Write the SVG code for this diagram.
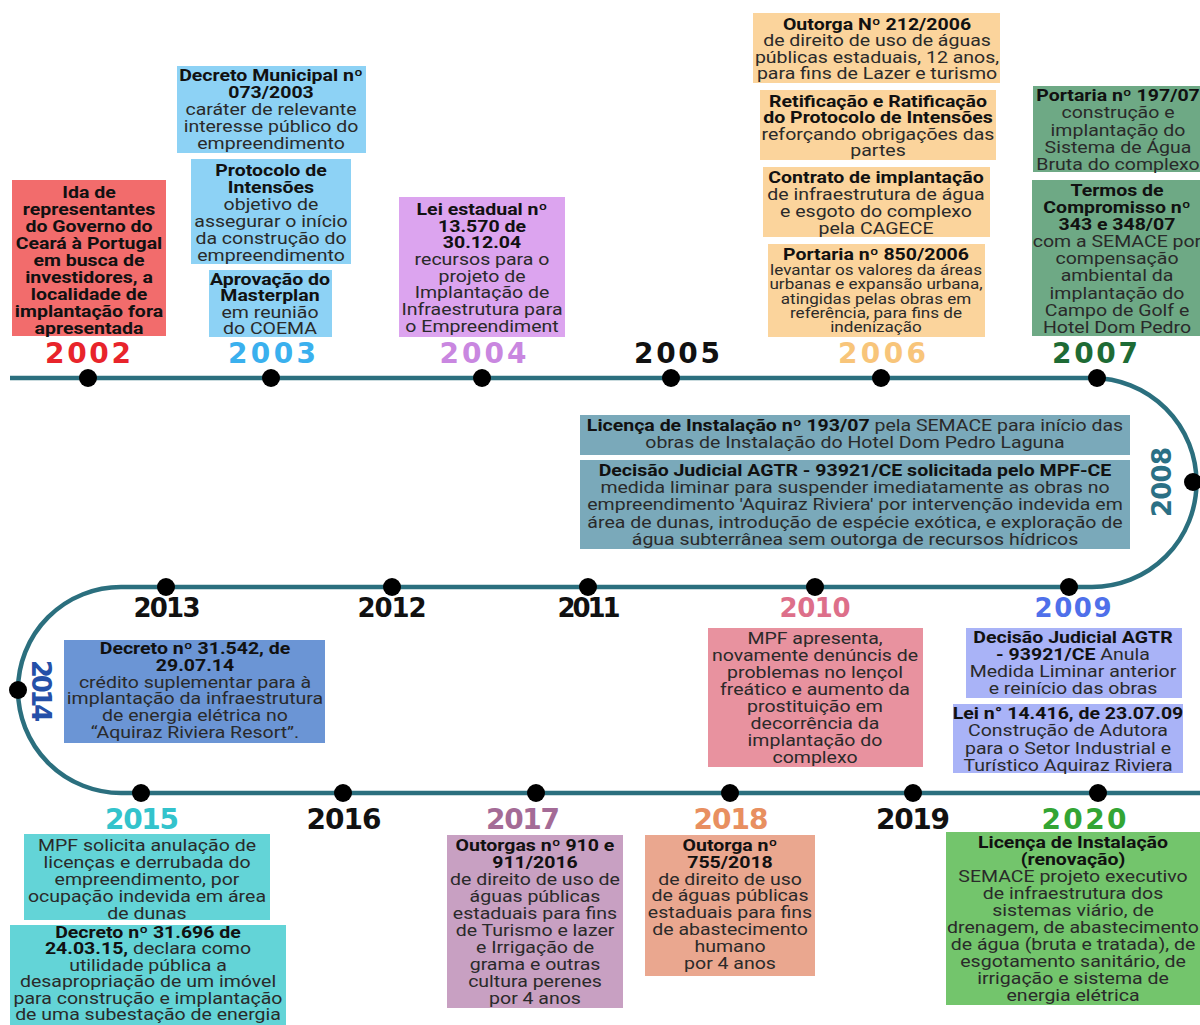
<svg xmlns="http://www.w3.org/2000/svg" width="1200" height="1025" viewBox="0 0 1200 1025">
<style>
.t{font-family:Roboto,"Liberation Sans",sans-serif;font-size:16px;fill:#2a2a2a;text-anchor:middle}
.b{font-weight:bold;fill:#111}
.s{font-size:14px}
.yr{font-family:"DejaVu Sans","Liberation Sans",sans-serif;font-weight:bold;font-size:28px;text-anchor:middle}
.ym{font-size:26px}
.dot{fill:#000}
.line{fill:none;stroke:#2b6f7e;stroke-width:4.5}
</style>
<rect width="1200" height="1025" fill="#fff"/>
<g id="connectors">
<path class="line" d="M10,378 H1092 A104.5,104.5 0 0 1 1092,587 H121 A103,103 0 0 0 121,793 H1200"/>
</g>

<g id="y2002">
<rect x="12" y="180" width="154" height="156" fill="#f26c6c"/>
<text class="t b" transform="translate(89 0) scale(1.22 1)" y="198"><tspan x="0">Ida de</tspan><tspan x="0" dy="17">representantes</tspan><tspan x="0" dy="17">do Governo do</tspan><tspan x="0" dy="17">Ceará à Portugal</tspan><tspan x="0" dy="17">em busca de</tspan><tspan x="0" dy="17">investidores, a</tspan><tspan x="0" dy="17">localidade de</tspan><tspan x="0" dy="17">implantação fora</tspan><tspan x="0" dy="17">apresentada</tspan></text>
<text class="yr" x="88" y="363" textLength="86" lengthAdjust="spacing" fill="#e8242b">2002</text>
<circle class="dot" cx="88" cy="378" r="9"/>
</g>

<g id="y2003">
<rect x="177" y="66" width="189" height="87" fill="#8dd2f5"/>
<text class="t" transform="translate(271 0) scale(1.22 1)" y="81"><tspan x="0" class="b">Decreto Municipal nº</tspan><tspan x="0" dy="17" class="b">073/2003</tspan><tspan x="0" dy="17">caráter de relevante</tspan><tspan x="0" dy="17">interesse público do</tspan><tspan x="0" dy="17">empreendimento</tspan></text>
<rect x="191" y="159" width="160" height="105" fill="#8dd2f5"/>
<text class="t" transform="translate(271 0) scale(1.22 1)" y="176"><tspan x="0" class="b">Protocolo de</tspan><tspan x="0" dy="17" class="b">Intensões</tspan><tspan x="0" dy="17">objetivo de</tspan><tspan x="0" dy="17">assegurar o início</tspan><tspan x="0" dy="17">da construção do</tspan><tspan x="0" dy="17">empreendimento</tspan></text>
<rect x="209" y="270" width="123" height="67" fill="#8dd2f5"/>
<text class="t" transform="translate(270 0) scale(1.22 1)" y="285"><tspan x="0" class="b">Aprovação do</tspan><tspan x="0" dy="16.5" class="b">Masterplan</tspan><tspan x="0" dy="16.5">em reunião</tspan><tspan x="0" dy="16.5">do COEMA</tspan></text>
<text class="yr" x="272" y="363" textLength="88" lengthAdjust="spacing" fill="#3ab0ee">2003</text>
<circle class="dot" cx="271" cy="378" r="9"/>
</g>

<g id="y2004">
<rect x="399" y="197" width="166" height="140" fill="#dca4ef"/>
<text class="t" transform="translate(482 0) scale(1.22 1)" y="215"><tspan x="0" class="b">Lei estadual nº</tspan><tspan x="0" dy="16.7" class="b">13.570 de</tspan><tspan x="0" dy="16.7" class="b">30.12.04</tspan><tspan x="0" dy="16.7">recursos para o</tspan><tspan x="0" dy="16.7">projeto de</tspan><tspan x="0" dy="16.7">Implantação de</tspan><tspan x="0" dy="16.7">Infraestrutura para</tspan><tspan x="0" dy="16.7">o Empreendiment</tspan></text>
<text class="yr" x="483" y="363" textLength="87" lengthAdjust="spacing" fill="#c987e0">2004</text>
<circle class="dot" cx="482" cy="378" r="9"/>
</g>

<g id="y2005">
<text class="yr" x="677" y="363" textLength="86" lengthAdjust="spacing" fill="#111">2005</text>
<circle class="dot" cx="671" cy="378" r="9"/>
</g>

<g id="y2006">
<rect x="753" y="13" width="247" height="70" fill="#fbd49c"/>
<text class="t" transform="translate(877 0) scale(1.22 1)" y="30"><tspan x="0" class="b">Outorga Nº 212/2006</tspan><tspan x="0" dy="16.5">de direito de uso de águas</tspan><tspan x="0" dy="16.5">públicas estaduais, 12 anos,</tspan><tspan x="0" dy="16.5">para fins de Lazer e turismo</tspan></text>
<rect x="760" y="90" width="236" height="70" fill="#fbd49c"/>
<text class="t" transform="translate(878 0) scale(1.22 1)" y="107"><tspan x="0" class="b">Retificação e Ratificação</tspan><tspan x="0" dy="16.5" class="b">do Protocolo de Intensões</tspan><tspan x="0" dy="16.5">reforçando obrigações das</tspan><tspan x="0" dy="16.5">partes</tspan></text>
<rect x="763" y="167" width="227" height="70" fill="#fbd49c"/>
<text class="t" transform="translate(876 0) scale(1.22 1)" y="183"><tspan x="0" class="b">Contrato de implantação</tspan><tspan x="0" dy="17">de infraestrutura de água</tspan><tspan x="0" dy="17">e esgoto do complexo</tspan><tspan x="0" dy="17">pela CAGECE</tspan></text>
<rect x="768" y="244" width="217" height="93" fill="#fbd49c"/>
<text class="t" transform="translate(876 0) scale(1.22 1)" y="260"><tspan x="0" class="b">Portaria nº 850/2006</tspan><tspan x="0" dy="15" class="s">levantar os valores da áreas</tspan><tspan x="0" dy="14.3" class="s">urbanas e expansão urbana,</tspan><tspan x="0" dy="14.3" class="s">atingidas pelas obras em</tspan><tspan x="0" dy="14.3" class="s">referência, para fins de</tspan><tspan x="0" dy="14.3" class="s">indenização</tspan></text>
<text class="yr" x="882" y="363" textLength="88" lengthAdjust="spacing" fill="#f8c57a">2006</text>
<circle class="dot" cx="881" cy="378" r="9"/>
</g>

<g id="y2007">
<rect x="1033" y="86" width="167" height="86" fill="#6ea985"/>
<text class="t" transform="translate(1118 0) scale(1.22 1)" y="101"><tspan x="0" class="b">Portaria nº 197/07</tspan><tspan x="0" dy="17.3">construção e</tspan><tspan x="0" dy="17.3">implantação do</tspan><tspan x="0" dy="17.3">Sistema de Água</tspan><tspan x="0" dy="17.3">Bruta do complexo</tspan></text>
<rect x="1032" y="180" width="168" height="156" fill="#6ea985"/>
<text class="t" transform="translate(1117 0) scale(1.22 1)" y="196"><tspan x="0" class="b">Termos de</tspan><tspan x="0" dy="17.1" class="b">Compromisso nº</tspan><tspan x="0" dy="17.1" class="b">343 e 348/07</tspan><tspan x="0" dy="17.1">com a SEMACE por</tspan><tspan x="0" dy="17.1">compensação</tspan><tspan x="0" dy="17.1">ambiental  da</tspan><tspan x="0" dy="17.1">implantação do</tspan><tspan x="0" dy="17.1">Campo de Golf e</tspan><tspan x="0" dy="17.1">Hotel Dom Pedro</tspan></text>
<text class="yr" x="1095" y="363" textLength="86" lengthAdjust="spacing" fill="#1e6b35">2007</text>
<circle class="dot" cx="1097" cy="378" r="9"/>
</g>

<g id="y2008">
<rect x="580" y="415" width="550" height="40" fill="#7aa9ba"/>
<text class="t" transform="translate(855 0) scale(1.22 1)" y="431"><tspan x="0"><tspan class="b">Licença de Instalação nº 193/07</tspan> pela SEMACE para início das</tspan><tspan x="0" dy="17.5">obras de Instalação do Hotel Dom Pedro Laguna</tspan></text>
<rect x="580" y="460" width="550" height="89" fill="#7aa9ba"/>
<text class="t" transform="translate(855 0) scale(1.22 1)" y="476"><tspan x="0" class="b">Decisão Judicial AGTR - 93921/CE solicitada pelo MPF-CE</tspan><tspan x="0" dy="17.2">medida liminar para suspender imediatamente as obras no</tspan><tspan x="0" dy="17.2">empreendimento 'Aquiraz Riviera' por intervenção indevida em</tspan><tspan x="0" dy="17.2">área de dunas, introdução de espécie exótica, e exploração de</tspan><tspan x="0" dy="17.2">água subterrânea sem outorga de recursos hídricos</tspan></text>
<text class="yr ym" transform="translate(1171,482) rotate(-90)" x="0" y="0" textLength="70" lengthAdjust="spacing" fill="#2b7085">2008</text>
<circle class="dot" cx="1193" cy="482" r="9"/>
</g>

<g id="y2009">
<rect x="966" y="628" width="216" height="70" fill="#a9b3f7"/>
<text class="t" transform="translate(1073 0) scale(1.22 1)" y="643"><tspan x="0" class="b">Decisão Judicial AGTR</tspan><tspan x="0" dy="17"><tspan class="b">- 93921/CE</tspan>  Anula</tspan><tspan x="0" dy="17">Medida Liminar anterior</tspan><tspan x="0" dy="17">e reinício das obras</tspan></text>
<rect x="953" y="704" width="230" height="69" fill="#a9b3f7"/>
<text class="t" transform="translate(1068 0) scale(1.22 1)" y="719"><tspan x="0" class="b">Lei n° 14.416, de 23.07.09</tspan><tspan x="0" dy="17.3">Construção de Adutora</tspan><tspan x="0" dy="17.3">para o Setor Industrial e</tspan><tspan x="0" dy="17.3">Turístico Aquiraz Riviera</tspan></text>
<text class="yr ym" x="1073" y="617" textLength="77" lengthAdjust="spacing" fill="#4f70ea">2009</text>
<circle class="dot" cx="1069" cy="587" r="9"/>
</g>

<g id="y2010">
<rect x="708" y="628" width="215" height="139" fill="#e8929f"/>
<text class="t" transform="translate(815 0) scale(1.22 1)" y="644"><tspan x="0">MPF apresenta,</tspan><tspan x="0" dy="17">novamente denúncis de</tspan><tspan x="0" dy="17">problemas no lençol</tspan><tspan x="0" dy="17">freático e aumento da</tspan><tspan x="0" dy="17">prostituição em</tspan><tspan x="0" dy="17">decorrência da</tspan><tspan x="0" dy="17">implantação do</tspan><tspan x="0" dy="17">complexo</tspan></text>
<text class="yr ym" x="815" y="617" textLength="71" lengthAdjust="spacing" fill="#dd6f8a">2010</text>
<circle class="dot" cx="815" cy="587" r="9"/>
</g>

<g id="y2011">
<text class="yr ym" x="589" y="617" textLength="63" lengthAdjust="spacing" fill="#111">2011</text>
<circle class="dot" cx="588" cy="587" r="9"/>
</g>

<g id="y2012">
<text class="yr ym" x="392" y="617" textLength="69" lengthAdjust="spacing" fill="#111">2012</text>
<circle class="dot" cx="392" cy="587" r="9"/>
</g>

<g id="y2013">
<text class="yr ym" x="167" y="617" textLength="67" lengthAdjust="spacing" fill="#111">2013</text>
<circle class="dot" cx="166" cy="587" r="9"/>
</g>

<g id="y2014">
<rect x="64" y="640" width="261" height="103" fill="#6b95d5"/>
<text class="t" transform="translate(195 0) scale(1.22 1)" y="654"><tspan x="0" class="b">Decreto nº 31.542, de</tspan><tspan x="0" dy="16.8" class="b">29.07.14</tspan><tspan x="0" dy="16.8">crédito suplementar para à</tspan><tspan x="0" dy="16.8">implantação da infraestrutura</tspan><tspan x="0" dy="16.8">de energia elétrica no</tspan><tspan x="0" dy="16.8">“Aquiraz Riviera Resort”.</tspan></text>
<text class="yr ym" transform="translate(32,691) rotate(90)" x="0" y="0" textLength="62" lengthAdjust="spacing" fill="#2550a8">2014</text>
<circle class="dot" cx="18" cy="690" r="9"/>
</g>

<g id="y2015">
<rect x="24" y="834" width="246" height="86" fill="#63d4d7"/>
<text class="t" transform="translate(147 0) scale(1.22 1)" y="851"><tspan x="0">MPF solicita anulação de</tspan><tspan x="0" dy="17">licenças e derrubada do</tspan><tspan x="0" dy="17">empreendimento, por</tspan><tspan x="0" dy="17">ocupação indevida em área</tspan><tspan x="0" dy="17">de dunas</tspan></text>
<rect x="10" y="925" width="276" height="100" fill="#63d4d7"/>
<text class="t" transform="translate(148 0) scale(1.22 1)" y="938"><tspan x="0" class="b">Decreto nº 31.696 de</tspan><tspan x="0" dy="16.5"><tspan class="b">24.03.15,</tspan> declara como</tspan><tspan x="0" dy="16.5">utilidade pública a</tspan><tspan x="0" dy="16.5">desapropriação de um imóvel</tspan><tspan x="0" dy="16.5">para construção e implantação</tspan><tspan x="0" dy="16.5">de uma subestação de energia</tspan></text>
<text class="yr" x="142" y="829" textLength="74" lengthAdjust="spacing" fill="#33c3cc">2015</text>
<circle class="dot" cx="141" cy="793" r="9"/>
</g>

<g id="y2016">
<text class="yr" x="344" y="829" textLength="75" lengthAdjust="spacing" fill="#111">2016</text>
<circle class="dot" cx="343" cy="793" r="9"/>
</g>

<g id="y2017">
<rect x="447" y="835" width="176" height="173" fill="#c8a0c2"/>
<text class="t" transform="translate(535 0) scale(1.22 1)" y="851"><tspan x="0" class="b">Outorgas nº 910 e</tspan><tspan x="0" dy="17" class="b">911/2016</tspan><tspan x="0" dy="17">de direito de uso de</tspan><tspan x="0" dy="17">águas públicas</tspan><tspan x="0" dy="17">estaduais para fins</tspan><tspan x="0" dy="17">de Turismo e lazer</tspan><tspan x="0" dy="17">e Irrigação de</tspan><tspan x="0" dy="17">grama e outras</tspan><tspan x="0" dy="17">cultura perenes</tspan><tspan x="0" dy="17">por 4 anos</tspan></text>
<text class="yr" x="523" y="829" textLength="74" lengthAdjust="spacing" fill="#a46b96">2017</text>
<circle class="dot" cx="536" cy="793" r="9"/>
</g>

<g id="y2018">
<rect x="645" y="835" width="170" height="141" fill="#eaa78f"/>
<text class="t" transform="translate(730 0) scale(1.22 1)" y="851"><tspan x="0" class="b">Outorga nº</tspan><tspan x="0" dy="16.8" class="b">755/2018</tspan><tspan x="0" dy="16.8">de direito de uso</tspan><tspan x="0" dy="16.8">de águas públicas</tspan><tspan x="0" dy="16.8">estaduais para fins</tspan><tspan x="0" dy="16.8">de abastecimento</tspan><tspan x="0" dy="16.8">humano</tspan><tspan x="0" dy="16.8">por 4 anos</tspan></text>
<text class="yr" x="731" y="829" textLength="75" lengthAdjust="spacing" fill="#e88f60">2018</text>
<circle class="dot" cx="730" cy="793" r="9"/>
</g>

<g id="y2019">
<text class="yr" x="913" y="829" textLength="74" lengthAdjust="spacing" fill="#111">2019</text>
<circle class="dot" cx="913" cy="793" r="9"/>
</g>

<g id="y2020">
<rect x="946" y="832" width="254" height="173" fill="#73c56c"/>
<text class="t" transform="translate(1073 0) scale(1.22 1)" y="848"><tspan x="0" class="b">Licença de Instalação</tspan><tspan x="0" dy="17" class="b">(renovação)</tspan><tspan x="0" dy="17">SEMACE projeto executivo</tspan><tspan x="0" dy="17">de infraestrutura dos</tspan><tspan x="0" dy="17">sistemas viário, de</tspan><tspan x="0" dy="17">drenagem, de abastecimento</tspan><tspan x="0" dy="17">de água (bruta e tratada), de</tspan><tspan x="0" dy="17">esgotamento sanitário, de</tspan><tspan x="0" dy="17">irrigação e sistema de</tspan><tspan x="0" dy="17">energia elétrica</tspan></text>
<text class="yr" x="1084" y="829" textLength="85" lengthAdjust="spacing" fill="#33a534">2020</text>
<circle class="dot" cx="1098" cy="793" r="9"/>
</g>
</svg>
